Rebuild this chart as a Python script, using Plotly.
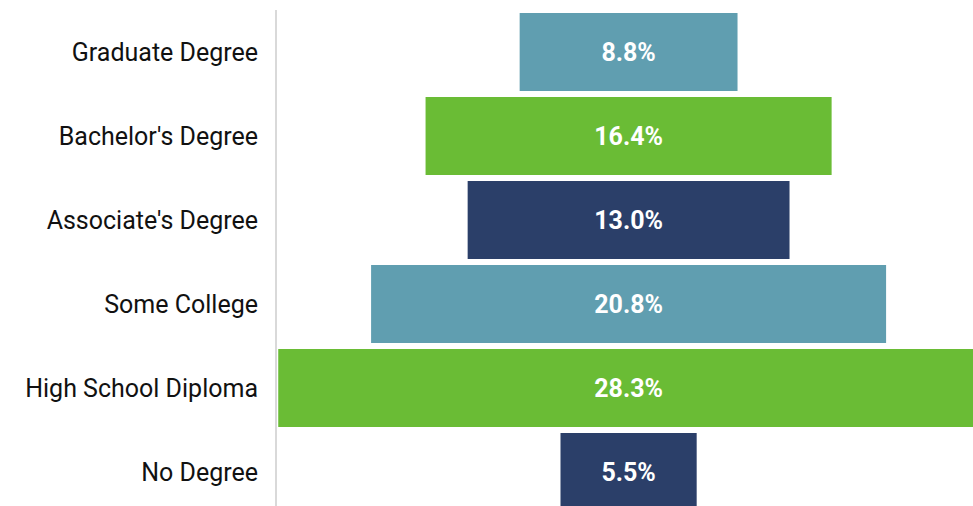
import plotly.graph_objects as go

categories = ["Graduate Degree", "Bachelor's Degree", "Associate's Degree",
              "Some College", "High School Diploma", "No Degree"]
values = [8.8, 16.4, 13.0, 20.8, 28.3, 5.5]
colors = ["#609eb0", "#6abc35", "#2b3f69", "#609eb0", "#6abc35", "#2b3f69"]

fig = go.Figure(go.Funnel(
    y=categories,
    x=values,
    marker=dict(color=colors, line=dict(width=0)),
    connector=dict(visible=False),
    texttemplate="%{x:.1f}%",
    textposition="inside",
    insidetextanchor="middle",
    textfont=dict(family="Roboto", size=25, color="white", weight="bold"),
    constraintext="none",
    hoverinfo="skip",
))

fig.update_layout(
    width=973, height=514,
    margin=dict(l=277, r=0, t=10, b=0),
    paper_bgcolor="white", plot_bgcolor="white",
    funnelgap=0.07,
    showlegend=False,
    font=dict(family="Roboto", size=25, color="#111111"),
    xaxis=dict(visible=False, range=[-14.2, 13.91]),
    yaxis=dict(showline=True, linecolor="#d9d9d9", linewidth=2,
               showgrid=False, ticks="", ticklabelstandoff=12,
               tickfont=dict(family="Roboto", size=25, color="#111111")),
)

fig.write_html("out.html",
               config={"displayModeBar": False},
               post_script="document.body.style.margin='0';document.body.style.overflow='hidden';")
